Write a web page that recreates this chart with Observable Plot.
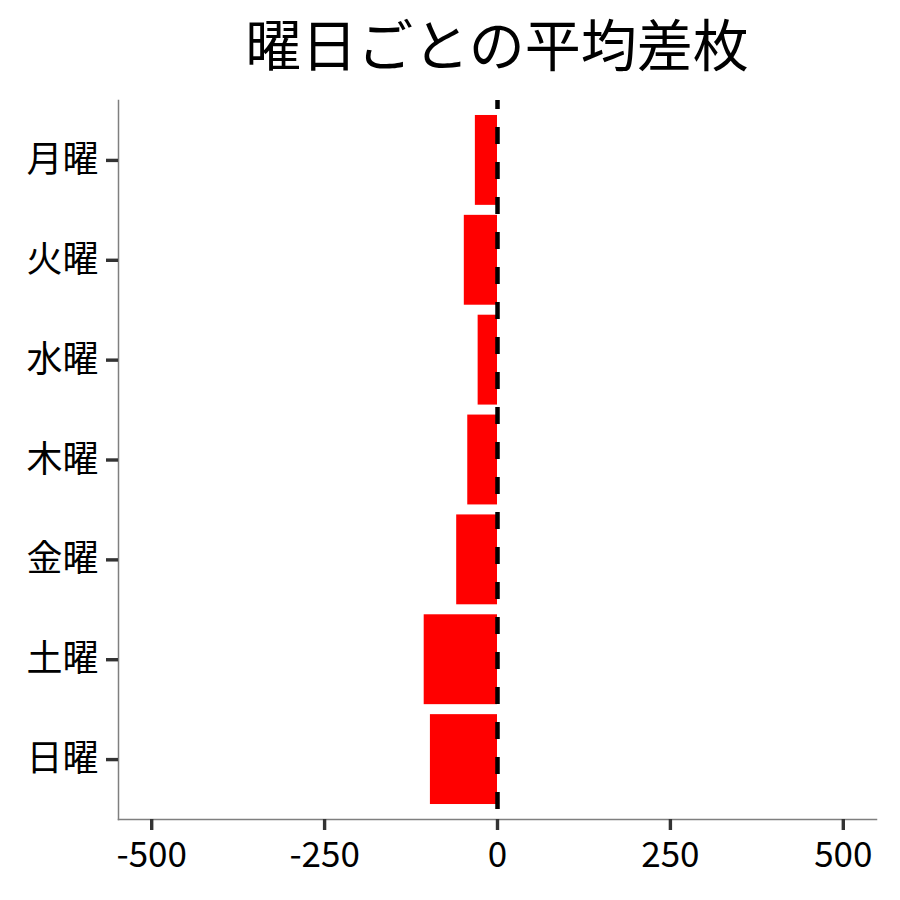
<!DOCTYPE html>
<html>
<head>
<meta charset="utf-8">
<script src="https://cdn.jsdelivr.net/npm/d3@7"></script>
<script src="https://cdn.jsdelivr.net/npm/@observablehq/plot@0.6"></script>
<style>
  body { margin: 0; background: #fff; font-family: "Noto Sans CJK JP", "Noto Sans", sans-serif; }
  #title { height: 90px; line-height: 84px; font-size: 56px; color: #000; width: 900px; box-sizing: border-box; padding-left: 94px; text-align: center; white-space: nowrap; overflow: hidden; }
</style>
</head>
<body>
<div id="title">曜日ごとの平均差枚</div>
<div id="chart"></div>
<script>
const days = ["月曜", "火曜", "水曜", "木曜", "金曜", "土曜", "日曜"];
const avgDiff = [-32, -48, -28, -43, -59, -106, -97];
const xTicks = [-500, -250, 0, 250, 500];
const xDomain = [-548, 548];

const data = days.map((d, i) => ({day: d, value: avgDiff[i]}));

const plot = Plot.plot({
  width: 900,
  height: 810,
  marginTop: 10,
  marginBottom: 81,
  marginLeft: 118,
  marginRight: 24,
  style: {fontFamily: "'Noto Sans CJK JP', sans-serif", fontSize: "35px", color: "#000", background: "#fff"},
  x: {domain: xDomain, ticks: xTicks, label: null},
  y: {domain: days, paddingInner: 0.1, paddingOuter: 0.15, round: false, label: null},
  marks: [
    Plot.barX(data, {x: "value", y: "day", fill: "#ff0000"}),
    Plot.ruleX([0], {stroke: "#000", strokeWidth: 4.5, strokeDasharray: "17,18", strokeDashoffset: 8}),
    Plot.frame({anchor: "left", stroke: "#7f7f7f", strokeWidth: 1.5}),
    Plot.frame({anchor: "bottom", stroke: "#7f7f7f", strokeWidth: 1.5}),
    Plot.axisX({ticks: xTicks, tickFormat: d => String(d), tickSize: 11, tickPadding: 12, stroke: "#333", strokeWidth: 3.4, fill: "#000", label: null, fontSize: 35}),
    Plot.axisY({tickSize: 12, tickPadding: 8, stroke: "#333", strokeWidth: 3.4, fill: "#000", label: null, fontSize: 36})
  ]
});
document.getElementById("chart").appendChild(plot);
</script>
</body>
</html>
